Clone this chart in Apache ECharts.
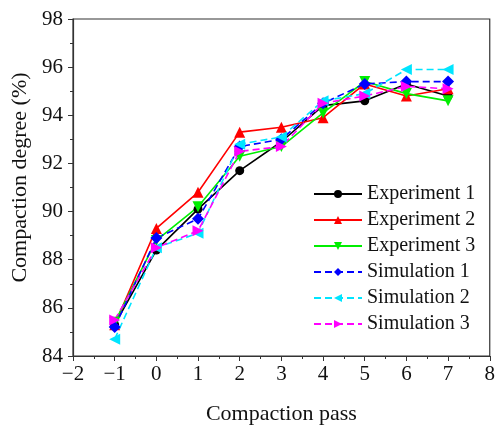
<!DOCTYPE html>
<html>
<head>
<meta charset="utf-8">
<script src="https://cdn.jsdelivr.net/npm/echarts@6/dist/echarts.min.js"></script>
<style>
  html, body { margin: 0; padding: 0; background: #fff; }
  #chart { width: 498px; height: 430px; }
</style>
</head>
<body>
<div id="chart"></div>
<script>
const passes = [-1, 0, 1, 2, 3, 4, 5, 6, 7];

const experiment1 = [85.3, 88.4, 90.1, 91.7, 92.9, 94.4, 94.6, 95.3, 94.8];
const experiment2 = [85.3, 89.3, 90.8, 93.3, 93.5, 93.9, 95.3, 94.8, 95.1];
const experiment3 = [85.4, 88.8, 90.2, 92.3, 92.7, 94.1, 95.4, 94.9, 94.6];
const simulation1 = [85.2, 88.9, 89.7, 92.7, 93.0, 94.5, 95.3, 95.4, 95.4];
const simulation2 = [84.7, 88.5, 89.1, 92.8, 93.1, 94.6, 94.9, 95.9, 95.9];
const simulation3 = [85.5, 88.5, 89.2, 92.5, 92.7, 94.5, 94.8, 95.2, 95.1];

const seriesDefs = [
  { name: "Experiment 1", data: experiment1, color: "#000000", symbol: "circle", size: 9, dashed: false },
  { name: "Experiment 2", data: experiment2, color: "#ff0000", symbol: "triangle", size: 11, dashed: false },
  { name: "Experiment 3", data: experiment3, color: "#00ee00", symbol: "triangle", size: 11, rotate: 180, dashed: false },
  { name: "Simulation 1", data: simulation1, color: "#0000ff", symbol: "diamond", size: 12, dashed: true },
  { name: "Simulation 2", data: simulation2, color: "#00e5ff", symbol: "triangle", size: 11, rotate: 90, dashed: true },
  { name: "Simulation 3", data: simulation3, color: "#ff00ff", symbol: "triangle", size: 11, rotate: -90, dashed: true },
];

const font = "Liberation Serif, Times New Roman, serif";
const minus = (v) => String(v).replace("-", "\u2212");

const chart = echarts.init(document.getElementById("chart"));

chart.setOption({
  backgroundColor: "#fff",
  animation: false,
  grid: {
    left: 73, right: 4, top: 19, bottom: 73,
    show: true, borderColor: "#333", borderWidth: 1.2, backgroundColor: "transparent",
  },
  legend: {
    orient: "vertical",
    left: 308, top: 179,
    itemWidth: 48, itemHeight: 10, itemGap: 6,
    textStyle: { fontFamily: font, fontSize: 20, color: "#111" },
    data: seriesDefs.map((s) => s.name),
  },
  xAxis: {
    type: "value", min: -2, max: 8, interval: 1,
    name: "Compaction pass", nameLocation: "middle", nameGap: 47,
    nameTextStyle: { fontFamily: font, fontSize: 22, color: "#111" },
    axisLine: { onZero: false, lineStyle: { color: "#333", width: 1.2 } },
    axisTick: { inside: false, length: 5, lineStyle: { color: "#333" } },
    minorTick: { show: true, splitNumber: 2, length: 3, lineStyle: { color: "#333" } },
    axisLabel: { fontFamily: font, fontSize: 21, color: "#111", margin: 8, formatter: minus },
    splitLine: { show: false },
  },
  yAxis: {
    type: "value", min: 84, max: 98, interval: 2,
    name: "Compaction degree (%)", nameLocation: "middle", nameGap: 40,
    nameTextStyle: { fontFamily: font, fontSize: 22, color: "#111", padding: [0, 0, 0, 20] },
    axisLine: { onZero: false, lineStyle: { color: "#333", width: 1.2 } },
    axisTick: { inside: false, length: 5, lineStyle: { color: "#333" } },
    minorTick: { show: true, splitNumber: 2, length: 3, lineStyle: { color: "#333" } },
    axisLabel: { fontFamily: font, fontSize: 21, color: "#111", margin: 10 },
    splitLine: { show: false },
  },
  series: seriesDefs.map((s) => ({
    name: s.name,
    type: "line",
    data: passes.map((p, i) => [p, s.data[i]]),
    symbol: s.symbol,
    symbolSize: s.size,
    symbolRotate: s.rotate || 0,
    showAllSymbol: true,
    itemStyle: { color: s.color, borderWidth: 0 },
    lineStyle: { color: s.color, width: 1.6, type: s.dashed ? [7, 4] : "solid" },
  })),
});
</script>
</body>
</html>
